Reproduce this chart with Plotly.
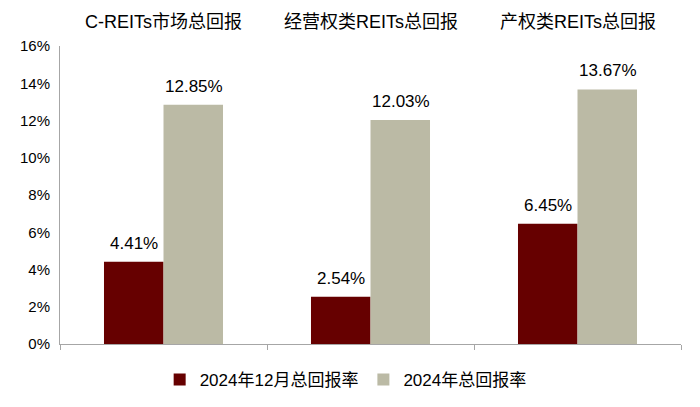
import plotly.graph_objects as go

# data
categories = ["C-REITs市场总回报", "经营权类REITs总回报", "产权类REITs总回报"]
series_names = ["2024年12月总回报率", "2024年总回报率"]
dec_return = [4.41, 2.54, 6.45]
year_return = [12.85, 12.03, 13.67]
y_ticks = [0, 2, 4, 6, 8, 10, 12, 14, 16]
y_tick_text = [f"{t}%" for t in y_ticks]

font_family = "Liberation Sans, Arial, Noto Sans CJK SC, sans-serif"
colors = ["#660000", "#BBBAA5"]

fig = go.Figure()

for name, vals, col in zip(series_names, [dec_return, year_return], colors):
    fig.add_trace(go.Bar(
        x=categories, y=vals, name=name,
        marker=dict(color=col, line=dict(width=0)),
        hoverinfo="x+y"
    ))

# value labels above bars
for vals, shift in zip([dec_return, year_return], [-30, 30]):
    for c, v in zip(categories, vals):
        fig.add_annotation(
            x=c, y=v, xref="x", yref="y", text=f"{v:.2f}%",
            showarrow=False, xshift=shift, yshift=7, yanchor="bottom",
            font=dict(size=17, color="#000000", family=font_family)
        )

# category titles on top
for c in categories:
    fig.add_annotation(
        x=c, y=1.08, xref="x", yref="paper", text=c,
        showarrow=False, yanchor="middle",
        font=dict(size=18, color="#000000", family=font_family)
    )

# page body has an 8px margin, so margins are offset to compensate
fig.update_layout(
    width=700, height=407,
    margin=dict(l=52, r=27, t=38, b=71),
    plot_bgcolor="white", paper_bgcolor="white",
    barmode="group", bargap=0.425, bargroupgap=0,
    font=dict(family=font_family, color="#000000"),
    legend=dict(
        orientation="h", x=0.46, xanchor="center", y=-0.06, yanchor="top",
        font=dict(size=17, family=font_family), itemwidth=30,
        traceorder="normal"
    )
)

fig.update_xaxes(
    showticklabels=False, showgrid=False, zeroline=False,
    showline=True, linecolor="#A6A6A6", linewidth=1,
    ticks="outside", tickson="boundaries", ticklen=5, tickcolor="#A6A6A6"
)
fig.update_yaxes(
    range=[0, 16], tickvals=y_ticks, ticktext=y_tick_text,
    showgrid=False, zeroline=False,
    showline=True, linecolor="#A6A6A6", linewidth=1,
    ticks="", tickfont=dict(size=15, color="#000000"), ticklabelstandoff=6
)

fig.write_html("out.html")
